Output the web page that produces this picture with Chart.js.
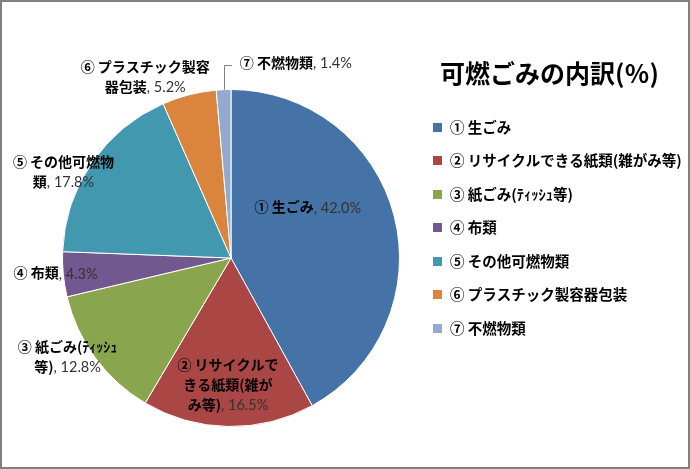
<!DOCTYPE html>
<html><head><meta charset="utf-8">
<script src="https://cdn.jsdelivr.net/npm/chart.js@4"></script>
<style>html,body{margin:0;padding:0;background:#fff;}canvas{display:block;}</style>
</head><body>
<canvas id="c" width="690" height="469"></canvas>
<script>
const chartTitle = "可燃ごみの内訳(％)";
const categories = ["① 生ごみ", "② リサイクルできる紙類(雑がみ等)", "③ 紙ごみ(ﾃｨｯｼｭ等)", "④ 布類", "⑤ その他可燃物類", "⑥ プラスチック製容器包装", "⑦ 不燃物類"];
const values = [42.0, 16.5, 12.8, 4.3, 17.8, 5.2, 1.4];
const colors = ["#4572A7", "#AA4643", "#89A54E", "#71588F", "#4198AF", "#DB843D", "#93A9CF"];

// label layout (relative to pie centre, in units of radius) and line breaks
const labelLayout = [
  {dx: 0.456, dy: -0.302, breaks: []},
  {dx: -0.018, dy: 0.751, breaks: [8, 15]},
  {dx: -0.970, dy: 0.586, breaks: [11]},
  {dx: -1.041, dy: 0.089, breaks: []},
  {dx: -0.994, dy: -0.515, breaks: [8]},
  {dx: -0.509, dy: -1.077, breaks: [10]},
  {dx: 0.385, dy: -1.160, breaks: [], leader: true}
];
const JP = "'Noto Sans CJK JP','Noto Sans',sans-serif";
const nameFont = "bold 14px " + JP;
const valFont = "14.5px Lato,'Noto Sans',sans-serif";

const decor = {
  id: 'decor',
  afterDraw(chart) {
    const ctx = chart.ctx;
    const meta = chart.getDatasetMeta(0);
    ctx.save();
    // data labels
    meta.data.forEach((arc, i) => {
      const p = arc.getProps(['x', 'y', 'outerRadius', 'startAngle', 'endAngle'], true);
      const L = labelLayout[i];
      const cx = p.x + L.dx * p.outerRadius;
      const cy = p.y + L.dy * p.outerRadius;
      const name = categories[i];
      const full = name + ", " + values[i].toFixed(1) + "%";
      const cuts = [0, ...L.breaks, full.length];
      const lines = [];
      for (let k = 0; k < cuts.length - 1; k++) lines.push([cuts[k], cuts[k + 1]]);
      const lh = 20;
      const y0 = cy - (lines.length - 1) * lh / 2;
      let firstLeft = null;
      lines.forEach(([a, b], li) => {
        const nA = Math.min(b, name.length);
        const part1 = a < name.length ? full.slice(a, nA) : "";
        const part2 = b > name.length ? full.slice(Math.max(a, name.length), b) : "";
        ctx.font = nameFont; const w1 = ctx.measureText(part1).width;
        ctx.font = valFont; const w2 = ctx.measureText(part2).width;
        const left = cx - (w1 + w2) / 2;
        if (li === 0) firstLeft = left;
        const ly = y0 + li * lh;
        ctx.textBaseline = 'middle'; ctx.textAlign = 'left';
        ctx.font = nameFont; ctx.fillStyle = '#000'; ctx.fillText(part1, left, ly);
        ctx.font = valFont; ctx.fillStyle = '#333'; ctx.fillText(part2, left + w1, ly + 1);
      });
      if (L.leader) {
        const mid = (p.startAngle + p.endAngle) / 2;
        const ex = p.x + Math.cos(mid) * p.outerRadius;
        const ey = p.y + Math.sin(mid) * p.outerRadius;
        ctx.strokeStyle = '#7f7f7f'; ctx.lineWidth = 1;
        ctx.beginPath();
        ctx.moveTo(Math.round(ex) + 0.5, ey);
        ctx.lineTo(Math.round(ex) + 0.5, Math.round(y0 + 2) + 0.5);
        ctx.lineTo(firstLeft - 8, Math.round(y0 + 2) + 0.5);
        ctx.stroke();
      }
    });
    // title
    ctx.font = "bold 25px " + JP; ctx.fillStyle = '#000';
    ctx.textAlign = 'left'; ctx.textBaseline = 'middle';
    ctx.fillText(chartTitle, 440, 73);
    // legend
    categories.forEach((c, i) => {
      const ly = 127 + i * 33.5;
      ctx.fillStyle = colors[i];
      ctx.fillRect(433, Math.round(ly - 4.5), 9, 9);
      ctx.font = "bold 14.5px " + JP; ctx.fillStyle = '#000';
      ctx.textBaseline = 'middle';
      ctx.fillText(c, 450, ly);
    });
    // border
    ctx.strokeStyle = '#808080'; ctx.lineWidth = 2;
    ctx.strokeRect(1, 1, chart.width - 2, chart.height - 2);
    ctx.restore();
  }
};

new Chart(document.getElementById('c'), {
  type: 'pie',
  data: {
    labels: categories,
    datasets: [{ data: values, backgroundColor: colors, borderColor: '#ffffff', borderWidth: 1 }]
  },
  options: {
    responsive: false,
    animation: false,
    layout: { padding: { left: 62, right: 290, top: 89, bottom: 42 } },
    plugins: { legend: { display: false }, tooltip: { enabled: false }, title: { display: false } }
  },
  plugins: [decor]
});
</script>
</body></html>
